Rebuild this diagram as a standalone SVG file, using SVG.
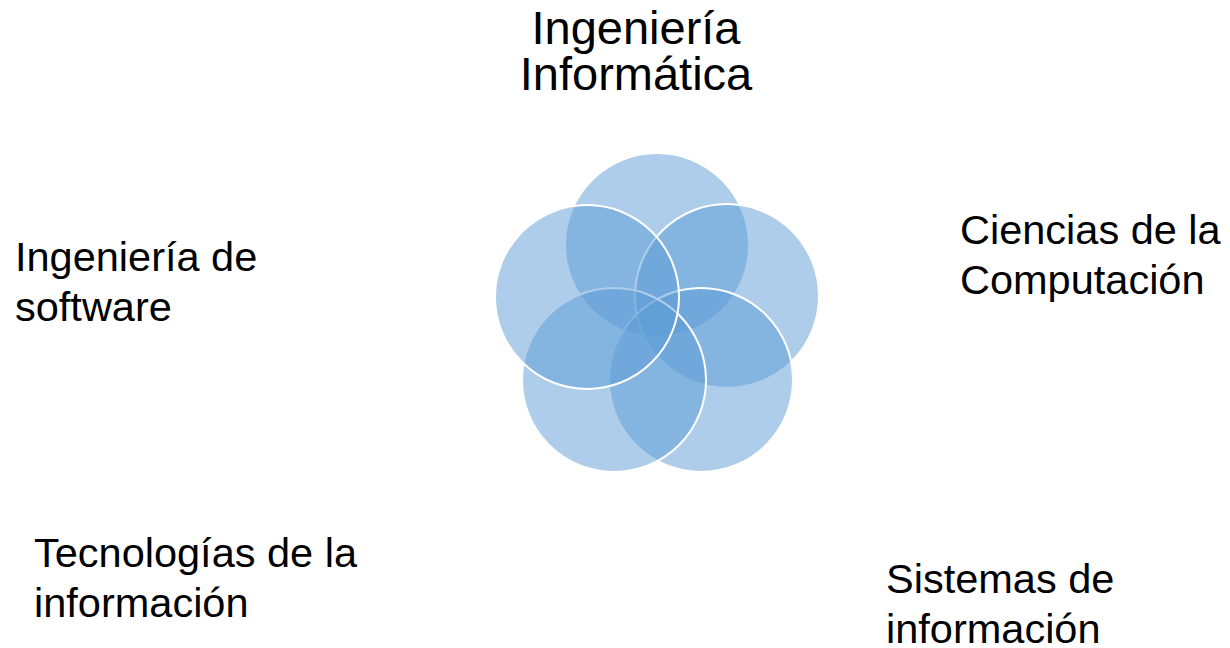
<svg xmlns="http://www.w3.org/2000/svg" width="1230" height="648" viewBox="0 0 1230 648">
<style>
.c{fill:#5B9BD5;fill-opacity:0.5;stroke:#FFFFFF;stroke-width:2}
.t{font-family:"Liberation Sans",Arial,sans-serif;fill:#000000}
.s{font-size:41.5px}
.h{font-size:47px}
</style>
<rect width="1230" height="648" fill="#FFFFFF"/>
<g id="circles">
<circle id="c-top" class="c" cx="657" cy="245" r="92"/>
<circle id="c-right" class="c" cx="727" cy="296" r="92"/>
<circle id="c-bottomright" class="c" cx="701" cy="380" r="92"/>
<circle id="c-bottomleft" class="c" cx="614" cy="380" r="92"/>
<circle id="c-left" class="c" cx="587" cy="297" r="92"/>
</g>
<g id="connectors"></g>
<g id="label-top"><text class="t h" text-anchor="middle" x="636" y="44">Ingeniería</text><text class="t h" text-anchor="middle" x="636" y="90">Informática</text></g>
<g id="label-right"><text class="t s" x="960" y="244">Ciencias de la</text><text class="t s" x="960" y="294">Computación</text></g>
<g id="label-left"><text class="t s" x="15" y="271">Ingeniería de</text><text class="t s" x="15" y="321">software</text></g>
<g id="label-bottomleft"><text class="t s" x="34" y="567">Tecnologías de la</text><text class="t s" x="34" y="617">información</text></g>
<g id="label-bottomright"><text class="t s" x="886" y="593">Sistemas de</text><text class="t s" x="886" y="643">información</text></g>
</svg>
